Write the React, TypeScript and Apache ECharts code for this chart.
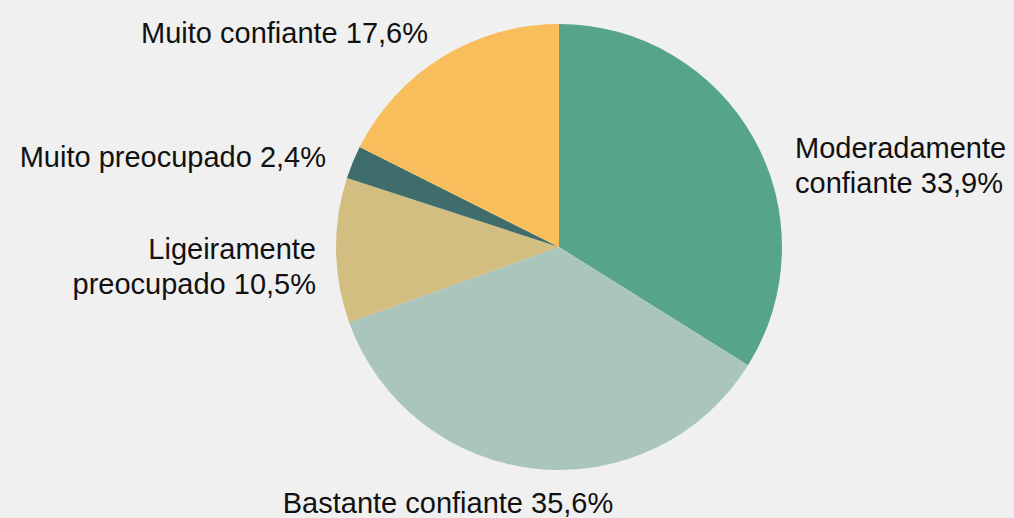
import React, { useEffect, useRef } from "react";
import * as echarts from "echarts";

const categories = [
  "Moderadamente\nconfiante",
  "Bastante confiante",
  "Ligeiramente\npreocupado",
  "Muito preocupado",
  "Muito confiante",
];
const values = [33.9, 35.6, 10.5, 2.4, 17.6];
const colors = ["#56a58b", "#aac5bb", "#d3be82", "#3e6d6c", "#f8be5b"];

// label anchor layout (x, y, horizontal alignment)
const labelPos: [number, number, string][] = [
  [795, 165, "left"],
  [448, 503, "center"],
  [316, 266, "right"],
  [326, 157, "right"],
  [428, 33, "right"],
];

export default function App() {
  const ref = useRef<HTMLDivElement>(null);
  useEffect(() => {
    if (!ref.current) return;
    const chart = echarts.init(ref.current, null, { renderer: "svg" });
    chart.setOption({
      animation: false,
      backgroundColor: "#f0f0f0",
      series: [
        {
          type: "pie",
          center: [559, 247],
          radius: 223,
          startAngle: 90,
          clockwise: true,
          data: categories.map((name, i) => ({
            name,
            value: values[i],
            itemStyle: { color: colors[i] },
          })),
          label: {
            show: true,
            position: "outside",
            overflow: "none",
            formatter: (p: any) =>
              `${p.name} ${p.value.toFixed(1).replace(".", ",")}%`,
            fontFamily: "'Liberation Sans', Arial, Helvetica, sans-serif",
            fontSize: 29,
            lineHeight: 35,
            color: "#111",
          },
          labelLine: { show: false },
          labelLayout: (params: any) => {
            const p = labelPos[params.dataIndex];
            return { x: p[0], y: p[1], align: p[2], verticalAlign: "middle" };
          },
          emphasis: { disabled: true },
          silent: true,
        },
      ],
    });
    return () => chart.dispose();
  }, []);
  return (
    <div
      ref={ref}
      style={{ position: "fixed", left: 0, top: 0, width: 1014, height: 518 }}
    />
  );
}
